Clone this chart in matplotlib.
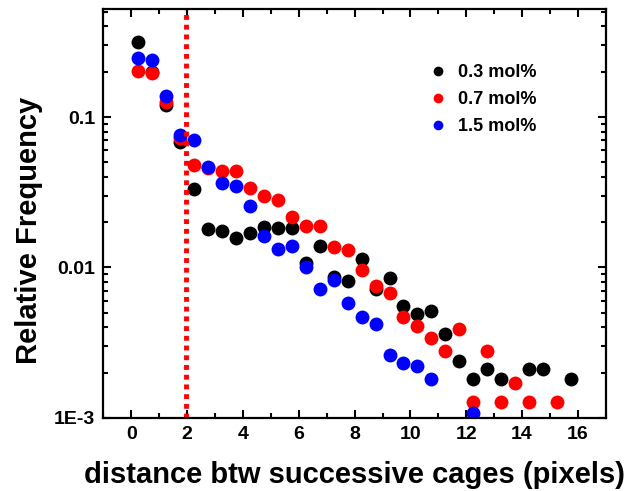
#!/usr/bin/env python3
import numpy as np
import matplotlib
matplotlib.use('Agg')
import matplotlib.pyplot as plt
from matplotlib.ticker import FixedLocator, FuncFormatter, MultipleLocator

plt.rcParams['font.family'] = ['Liberation Sans', 'DejaVu Sans']
plt.rcParams['font.weight'] = 'bold'

nan = np.nan
## bin centres (pixels)
dist = np.arange(0.25, 16.0, 0.5)

freq_03 = [0.316, 0.198, 0.120, 0.0686, 0.0331, 0.0180, 0.0176, 0.0156,
           0.0169, 0.0187, 0.0184, 0.0184, 0.0107, 0.0139, 0.0087, 0.0081,
           0.0113, 0.0072, 0.0085, 0.0055, 0.0049, 0.0051, 0.0036, 0.0024,
           0.0018, 0.0021, 0.0018, nan, 0.0021, 0.0021, nan, 0.0018]
freq_07 = [0.202, 0.197, 0.126, 0.0721, 0.048, 0.0455, 0.0440, 0.0439,
           0.0336, 0.0298, 0.0281, 0.0216, 0.0190, 0.0190, 0.0136, 0.0131,
           0.0096, 0.0075, 0.0068, 0.0047, 0.0041, 0.0034, 0.0028, 0.0039,
           0.00127, 0.0028, 0.00127, 0.0017, 0.00127, nan, 0.00127, nan]
freq_15 = [0.248, 0.241, 0.138, 0.0759, 0.0703, 0.0463, 0.0362, 0.0348,
           0.0257, 0.0162, 0.0132, 0.0139, 0.0100, 0.0072, 0.0082, 0.0058,
           0.0047, 0.0042, 0.0026, 0.0023, 0.0022, 0.0018, nan, nan,
           0.00108, nan, nan, nan, nan, nan, nan, nan]

series = [(freq_03, 'black', '0.3 mol%'),
          (freq_07, 'red', '0.7 mol%'),
          (freq_15, 'blue', '1.5 mol%')]

cutoff = 1.95

fig = plt.figure(figsize=(6.31, 4.91), dpi=100)
ax = fig.add_axes([0.164, 0.149, 0.796, 0.832])

for vals, col, lab in series:
    ax.plot(dist, vals, 'o', color=col, ms=10, mew=0, label=lab)

ax.axvline(cutoff, color='red', lw=3.5, linestyle=(0, (1, 1)), dash_capstyle='butt')

ax.set_yscale('log')
ax.set_xlim(-1, 17)
ax.set_ylim(1e-3, 0.52)

ax.xaxis.set_major_locator(MultipleLocator(2))
ax.xaxis.set_minor_locator(MultipleLocator(1))
ax.yaxis.set_major_locator(FixedLocator([1e-3, 1e-2, 1e-1]))
labels_y = {1e-3: '1E-3', 1e-2: '0.01', 1e-1: '0.1'}
ax.yaxis.set_major_formatter(FuncFormatter(
    lambda v, p: min(labels_y.items(), key=lambda kv: abs(np.log10(kv[0]) - np.log10(v)))[1]))

for s in ax.spines.values():
    s.set_linewidth(1.6)
ax.tick_params(which='both', direction='in', top=True, right=True, width=1.5)
ax.tick_params(which='major', length=6, labelsize=14, pad=6)
ax.tick_params(which='minor', length=3.5)
ax.yaxis.set_minor_formatter(FuncFormatter(lambda v, p: ''))

ax.set_xlabel('distance btw successive cages (pixels)', fontsize=21, fontweight='bold')
ax.set_ylabel('Relative Frequency', fontsize=21, fontweight='bold')
ax.xaxis.set_label_coords(0.5, -0.105)
ax.yaxis.set_label_coords(-0.121, 0.46)

leg = ax.legend(loc='upper right', bbox_to_anchor=(0.894, 0.905), frameon=False,
                fontsize=13, markerscale=0.7, handletextpad=0.5, labelspacing=0.55,
                handlelength=1.2)
for t in leg.get_texts():
    t.set_fontweight('bold')

plt.savefig('out.png', dpi=100)
